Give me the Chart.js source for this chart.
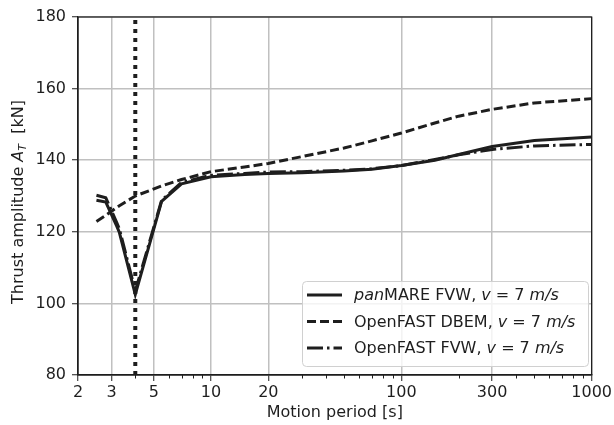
<!DOCTYPE html>
<html>
<head>
<meta charset="utf-8">
<script src="https://cdn.jsdelivr.net/npm/chart.js@4.4.0/dist/chart.umd.min.js"></script>
<style>
  html, body { margin: 0; padding: 0; background: #fff; }
</style>
</head>
<body>
<canvas id="chart" width="614" height="425"></canvas>
<script>
// motion periods [s] and thrust amplitudes [kN]
const periods = [2.5, 2.8, 3.2, 3.3, 4, 5.5, 7, 10, 15, 20, 30, 50, 70, 100, 150, 200, 300, 500, 1000];
const panmareFvw = [128.8, 128.3, 121.5, 119.8, 102.5, 128.5, 133.4, 135.4, 136.0, 136.3, 136.5, 137.0, 137.5, 138.5, 140.0, 141.6, 143.8, 145.5, 146.5];
const openfastDbem = [122.9, 124.6, 126.8, 127.3, 130.0, 132.8, 134.6, 136.8, 138.1, 139.1, 141.0, 143.4, 145.4, 147.6, 150.4, 152.3, 154.2, 156.0, 157.2];
const openfastFvw = [130.2, 129.5, 122.5, 120.8, 103.5, 128.8, 133.8, 135.8, 136.3, 136.7, 136.8, 137.2, 137.6, 138.5, 140.2, 141.5, 143.0, 144.0, 144.4];

const seriesNames = [
  [['pan', true], ['MARE FVW, ', false], ['v', true], [' = 7 ', false], ['m/s', true]],
  [['OpenFAST DBEM, ', false], ['v', true], [' = 7 ', false], ['m/s', true]],
  [['OpenFAST FVW, ', false], ['v', true], [' = 7 ', false], ['m/s', true]]
];

const xTickValues = [2, 3, 5, 10, 20, 100, 300, 1000];
const xMinorTicks = [4, 6, 7, 8, 9, 30, 40, 50, 60, 70, 80, 90, 200, 400, 500, 600, 700, 800, 900];
const yTickValues = [80, 100, 120, 140, 160, 180];
const resonancePeriod = 4;

const ink = '#1e1e1e';
const gridColor = '#c0c0c0';
const fontFamily = '"DejaVu Sans", sans-serif';
const fs = 16;
const dashes = [[], [9, 4], [16, 4, 2.5, 4]];

const toPoints = (vals) => periods.map((p, i) => ({ x: p, y: vals[i] }));

function drawRich(ctx, parts, x, y, size) {
  parts.forEach(([t, it]) => {
    ctx.font = (it ? 'italic ' : '') + size + 'px ' + fontFamily;
    ctx.fillText(t, x, y);
    x += ctx.measureText(t).width;
  });
}

const extras = {
  id: 'extras',
  afterDraw(chart) {
    const { ctx, chartArea: a } = chart;
    const x = chart.scales.x;
    ctx.save();

    // frame
    ctx.strokeStyle = ink;
    ctx.lineWidth = 1.25;
    ctx.strokeRect(a.left, a.top, a.right - a.left, a.bottom - a.top);

    // minor ticks on the log axis
    ctx.lineWidth = 1;
    xMinorTicks.forEach(v => {
      const px = Math.round(x.getPixelForValue(v)) + 0.5;
      ctx.beginPath();
      ctx.moveTo(px, a.bottom);
      ctx.lineTo(px, a.bottom + 3.5);
      ctx.stroke();
    });

    // y axis title with subscript
    ctx.fillStyle = ink;
    ctx.textBaseline = 'middle';
    const p1 = 'Thrust amplitude ';
    const p3 = '  [kN]';
    const sub = Math.round(fs * 0.7);
    ctx.font = fs + 'px ' + fontFamily;
    const w1 = ctx.measureText(p1).width;
    const w3 = ctx.measureText(p3).width;
    ctx.font = 'italic ' + fs + 'px ' + fontFamily;
    const wA = ctx.measureText('A').width;
    ctx.font = 'italic ' + sub + 'px ' + fontFamily;
    const wT = ctx.measureText('T').width;
    const total = w1 + wA + wT + w3;
    ctx.translate(19, (a.top + a.bottom) / 2 + 6);
    ctx.rotate(-Math.PI / 2);
    let cx = -total / 2;
    ctx.font = fs + 'px ' + fontFamily;
    ctx.fillText(p1, cx, 0); cx += w1;
    ctx.font = 'italic ' + fs + 'px ' + fontFamily;
    ctx.fillText('A', cx, 0); cx += wA;
    ctx.font = 'italic ' + sub + 'px ' + fontFamily;
    ctx.fillText('T', cx, 4); cx += wT;
    ctx.font = fs + 'px ' + fontFamily;
    ctx.fillText(p3, cx, 0);
    ctx.setTransform(1, 0, 0, 1, 0, 0);

    // legend
    const bx = 302, by = 281, bw = 286, bh = 85;
    ctx.fillStyle = 'rgba(255,255,255,0.8)';
    ctx.strokeStyle = '#d0d0d0';
    ctx.lineWidth = 1;
    ctx.beginPath();
    ctx.roundRect(bx + 0.5, by + 0.5, bw, bh, 4);
    ctx.fill();
    ctx.stroke();
    ctx.textBaseline = 'middle';
    seriesNames.forEach((parts, i) => {
      const ly = by + 14 + i * 26.5;
      ctx.strokeStyle = ink;
      ctx.lineWidth = 3;
      ctx.setLineDash(dashes[i]);
      ctx.beginPath();
      ctx.moveTo(bx + 5, ly);
      ctx.lineTo(bx + 40, ly);
      ctx.stroke();
      ctx.setLineDash([]);
      ctx.fillStyle = ink;
      drawRich(ctx, parts, bx + 52, ly + 1, fs);
    });
    ctx.restore();
  }
};

const lineDataset = (vals, i) => ({
  data: toPoints(vals),
  borderColor: ink,
  borderWidth: 3,
  borderDash: dashes[i],
  pointRadius: 0,
  tension: 0,
  fill: false,
  order: 1
});

new Chart(document.getElementById('chart'), {
  type: 'line',
  data: {
    datasets: [
      lineDataset(panmareFvw, 0),
      lineDataset(openfastDbem, 1),
      lineDataset(openfastFvw, 2),
      {
        data: [{ x: resonancePeriod, y: yTickValues[0] }, { x: resonancePeriod, y: yTickValues[yTickValues.length - 1] }],
        borderColor: ink,
        borderWidth: 4,
        borderDash: [4, 5],
        pointRadius: 0,
        order: 0
      }
    ]
  },
  options: {
    responsive: false,
    animation: false,
    layout: { padding: { left: 0, right: 20, top: 17, bottom: 0 } },
    plugins: { legend: { display: false }, tooltip: { enabled: false } },
    scales: {
      x: {
        type: 'logarithmic',
        min: 2,
        max: 1000,
        afterBuildTicks: (s) => { s.ticks = xTickValues.map(v => ({ value: v })); },
        afterFit: (s) => { s.height = 50; },
        ticks: {
          autoSkip: false,
          maxRotation: 0,
          padding: 2,
          color: ink,
          font: { family: fontFamily, size: fs },
          callback: (v) => String(v)
        },
        grid: { color: gridColor, lineWidth: 1.5, tickColor: ink, tickLength: 6, tickWidth: 1 },
        border: { color: ink, width: 1.25 },
        title: {
          display: true,
          text: 'Motion period [s]',
          color: ink,
          font: { family: fontFamily, size: fs },
          padding: { top: 0, bottom: 3 }
        }
      },
      y: {
        min: 80,
        max: 180,
        afterBuildTicks: (s) => { s.ticks = yTickValues.map(v => ({ value: v })); },
        afterFit: (s) => { s.width = 78; },
        ticks: {
          padding: 6,
          color: ink,
          font: { family: fontFamily, size: fs }
        },
        grid: { color: gridColor, lineWidth: 1.5, tickColor: ink, tickLength: 6, tickWidth: 1 },
        border: { color: ink, width: 1.25 }
      }
    }
  },
  plugins: [extras]
});
</script>
</body>
</html>
